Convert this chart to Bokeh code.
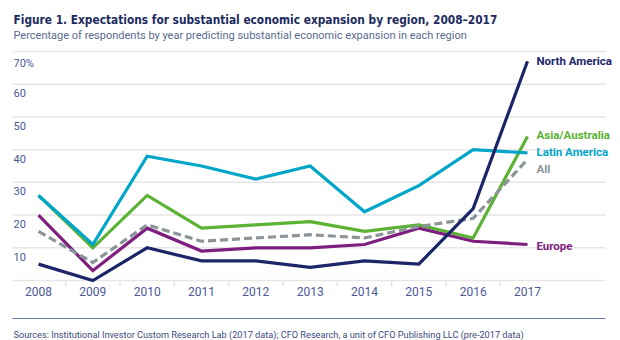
from bokeh.plotting import figure
from bokeh.models import Range1d
from bokeh.core.properties import value
from bokeh.embed import file_html
from bokeh.resources import INLINE

years = [2008, 2009, 2010, 2011, 2012, 2013, 2014, 2015, 2016, 2017]
north_america = [5, 0, 10, 6, 6, 4, 6, 5, 22, 67]
latin_america = [26, 11, 38, 35, 31, 35, 21, 29, 40, 39]
asia_australia = [26, 10, 26, 16, 17, 18, 15, 17, 13, 44]
europe = [20, 3, 16, 9, 10, 10, 11, 16, 12, 11]
all_regions = [15, 5.5, 17, 12, 13, 14, 13, 16.5, 19, 37]
y_ticks = [0, 10, 20, 30, 40, 50, 60, 70]
y_tick_labels = ["", "10", "20", "30", "40", "50", "60", "70%"]
year_labels = [str(y) for y in years]

TITLE = "Figure 1. Expectations for substantial economic expansion by region, 2008\u20132017"
SUBTITLE = "Percentage of respondents by year predicting substantial economic expansion in each region"
SOURCE = "Sources: Institutional Investor Custom Research Lab (2017 data); CFO Research, a unit of CFO Publishing LLC (pre-2017 data)"

W, H = 620, 340
# layout: pixel position of first/last year and of 0 / 70 on the canvas
X_FIRST_PX, X_LAST_PX = 38.0, 527.0
Y_ZERO_PX, Y_70_PX = 280.0, 51.0
PPX = (X_LAST_PX - X_FIRST_PX) / (years[-1] - years[0])
PPY = (Y_ZERO_PX - Y_70_PX) / 70.0


def px2x(px):
    return years[0] + (px - X_FIRST_PX) / PPX


def py2y(py):
    return (Y_ZERO_PX - py) / PPY


FONT = "Roboto"
TITLE_FONT = "DejaVu Sans Condensed"
NAVY = "#1b2568"
CYAN = "#00a6c8"
GREEN = "#5cb234"
PURPLE = "#7e1e7e"
GRAY = "#8b9498"
GRID = "#e6e6e6"
TICK_COLOR = "#4a5898"

p = figure(width=W, height=H, output_backend="svg", toolbar_location=None,
           title=None, x_range=Range1d(px2x(0), px2x(W)), y_range=Range1d(py2y(H), py2y(0)),
           min_border=0, x_axis_location=None, y_axis_location=None)
p.outline_line_color = None
p.background_fill_color = "white"
p.border_fill_color = "white"
p.xgrid.visible = False
p.ygrid.visible = False

# horizontal gridlines
grid_x0 = px2x(12.5)
grid_x1 = px2x(605)
p.segment(x0=[grid_x0] * len(y_ticks), x1=[grid_x1] * len(y_ticks), y0=y_ticks, y1=y_ticks,
          line_color=GRID, line_width=1.5)
# separators between years below the baseline
seps = [y + 0.5 for y in years[:-1]]
p.segment(x0=seps, x1=seps, y0=[0] * len(seps), y1=[-6 / PPY] * len(seps),
          line_color=GRID, line_width=1.5)

# y tick labels inside the plot, just below each gridline
p.text(x=[px2x(13)] * len(y_ticks), y=y_ticks, text=y_tick_labels,
       y_offset=5, text_baseline="top", text_align="left",
       text_font=value(FONT), text_font_size="11px", text_color=TICK_COLOR)
# year labels
p.text(x=years, y=[0] * len(years), text=year_labels, y_offset=6,
       text_baseline="top", text_align="center",
       text_font=value(FONT), text_font_size="12px", text_color=TICK_COLOR)

lw = 3.2
p.line(years, asia_australia, line_color=GREEN, line_width=lw, line_join="miter")
p.line(years, latin_america, line_color=CYAN, line_width=lw, line_join="miter")
p.line(years, europe, line_color=PURPLE, line_width=lw, line_join="miter")
p.line(years, all_regions, line_color=GRAY, line_width=lw, line_dash="8 4", line_join="miter")
p.line(years, north_america, line_color=NAVY, line_width=lw, line_join="miter")

series_labels = [
    ("North America", north_america, NAVY, 0),
    ("Asia/Australia", asia_australia, GREEN, -2),
    ("Latin America", latin_america, CYAN, -1),
    ("All", all_regions, GRAY, 10),
    ("Europe", europe, PURPLE, 1),
]
for name, vals, col, dy in series_labels:
    p.text(x=[years[-1]], y=[vals[-1]], text=[name], x_offset=9, y_offset=dy,
           text_baseline="middle", text_align="left",
           text_font=value(FONT), text_font_style="bold",
           text_font_size="11.5px", text_color=col)

# title, subtitle, source note
p.text(x=[px2x(13)], y=[py2y(19.5)], text=[TITLE], text_baseline="alphabetic",
       text_font=value(TITLE_FONT), text_font_style="bold", text_font_size="11.8px",
       text_color="#1c2b5e")
p.text(x=[px2x(13)], y=[py2y(35)], text=[SUBTITLE], text_baseline="alphabetic",
       text_font=value(FONT), text_font_size="11px", text_color="#5b6a8f")
p.segment(x0=[px2x(12)], x1=[px2x(605)], y0=[py2y(318)], y1=[py2y(318)],
          line_color="#6a7bb0", line_width=1.2)
p.text(x=[px2x(13)], y=[py2y(334)], text=[SOURCE], text_baseline="alphabetic",
       text_font=value(FONT), text_font_size="9.2px", text_color="#3d4b7c")

open("out.html", "w").write(file_html(p, INLINE))
